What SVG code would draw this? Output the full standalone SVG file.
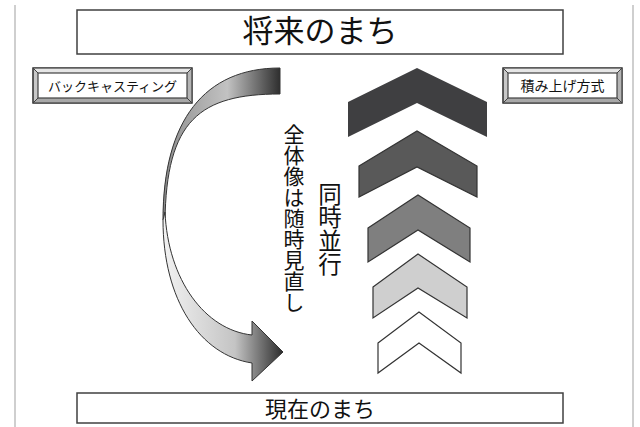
<svg xmlns="http://www.w3.org/2000/svg" width="640" height="427" viewBox="0 0 640 427">
<style>
.jp{font-family:"Noto Sans CJK JP","Noto Sans",sans-serif;fill:#111}
.box{fill:#fff;stroke:#404040;stroke-width:1.5}
.bevo{fill:#c8c8c8;stroke:#404040;stroke-width:1.2}
.bevi{fill:#fff;stroke:#404040;stroke-width:1.2}
.bevl{stroke:#404040;stroke-width:1}
.chev{stroke:#333;stroke-width:1.2}
.vt{writing-mode:vertical-rl;text-orientation:upright}
</style>
<defs>
<linearGradient id="gUp" x1="0" y1="0" x2="1" y2="0">
<stop offset="0" stop-color="#8e8e8e"/>
<stop offset="0.55" stop-color="#c2c2c2"/>
<stop offset="1" stop-color="#2f2f2f"/>
</linearGradient>
<linearGradient id="gLo" x1="0" y1="0" x2="1" y2="0">
<stop offset="0" stop-color="#f2f2f2"/>
<stop offset="0.6" stop-color="#c4c4c4"/>
<stop offset="1" stop-color="#2c2c2c"/>
</linearGradient>
</defs>
<rect width="640" height="427" fill="#fff"/>
<line x1="15" y1="5" x2="15" y2="427" stroke="#cfcfcf" stroke-width="2"/>
<line x1="633" y1="5" x2="633" y2="427" stroke="#cfcfcf" stroke-width="2"/>

<g id="future">
<rect class="box" x="77" y="10" width="486" height="44"/>
<text class="jp" x="320" y="42" font-size="31" text-anchor="middle">将来のまち</text>
</g>

<g id="current">
<rect class="box" x="77" y="393" width="486" height="30"/>
<text class="jp" x="320" y="417" font-size="22" text-anchor="middle">現在のまち</text>
</g>

<g id="backcasting">
<rect class="bevo" x="33" y="68" width="159" height="35"/>
<polygon points="33,68 192,68 187,73 38,73" fill="#e6e6e6"/>
<polygon points="33,103 192,103 187,98 38,98" fill="#a8a8a8"/>
<polygon points="192,68 192,103 187,98 187,73" fill="#b4b4b4"/>
<rect x="33" y="68" width="159" height="35" fill="none" stroke="#404040" stroke-width="1.2"/>
<rect class="bevi" x="38" y="73" width="149" height="25"/>
<line class="bevl" x1="33" y1="68" x2="38" y2="73"/>
<line class="bevl" x1="192" y1="68" x2="187" y2="73"/>
<line class="bevl" x1="33" y1="103" x2="38" y2="98"/>
<line class="bevl" x1="192" y1="103" x2="187" y2="98"/>
<text class="jp" x="112.5" y="91" font-size="13" text-anchor="middle">バックキャスティング</text>
</g>

<g id="stacking">
<rect class="bevo" x="503" y="68" width="119" height="35"/>
<polygon points="503,68 622,68 617,73 508,73" fill="#e6e6e6"/>
<polygon points="503,103 622,103 617,98 508,98" fill="#a8a8a8"/>
<polygon points="622,68 622,103 617,98 617,73" fill="#b4b4b4"/>
<rect x="503" y="68" width="119" height="35" fill="none" stroke="#404040" stroke-width="1.2"/>
<rect class="bevi" x="508" y="73" width="109" height="25"/>
<line class="bevl" x1="503" y1="68" x2="508" y2="73"/>
<line class="bevl" x1="622" y1="68" x2="617" y2="73"/>
<line class="bevl" x1="503" y1="103" x2="508" y2="98"/>
<line class="bevl" x1="622" y1="103" x2="617" y2="98"/>
<text class="jp" x="562.5" y="91" font-size="14" text-anchor="middle">積み上げ方式</text>
</g>

<g id="connectors">
<path d="M280,68 L280,94 C200,94 166,120 165,222 L163,220 C163,120 205,68 280,68 Z" fill="url(#gUp)" stroke="#333" stroke-width="1"/>
<path d="M165,212 C168,280 205,330 252,335 L252,321 L283,352 L252,381 L252,363 C200,355 163,300 163,220 Z" fill="url(#gLo)" stroke="#333" stroke-width="1"/>
</g>

<g id="review">
<text class="jp vt" x="294" y="124" font-size="21">全体像は随時見直し</text>
</g>
<g id="parallel">
<text class="jp vt" x="330" y="182" font-size="23.5">同時並行</text>
</g>

<g id="chevron1">
<polygon points="348,102 417,68 487,102 487,137 417,103 348,137" fill="#3f3f41"/>
</g>
<g id="chevron2">
<polygon class="chev" points="359,166 417,131 477,166 477,197 417,167 359,197" fill="#595959"/>
</g>
<g id="chevron3">
<polygon class="chev" points="368,228 418,195 470,228 470,262 418,230 368,262" fill="#7f7f7f"/>
</g>
<g id="chevron4">
<polygon class="chev" points="373,287 418,254 467,287 467,318 418,288 373,318" fill="#cfcfcf"/>
</g>
<g id="chevron5">
<polygon class="chev" points="378,343 419,312 461,343 461,373 419,343 378,373" fill="#fff"/>
</g>
</svg>
